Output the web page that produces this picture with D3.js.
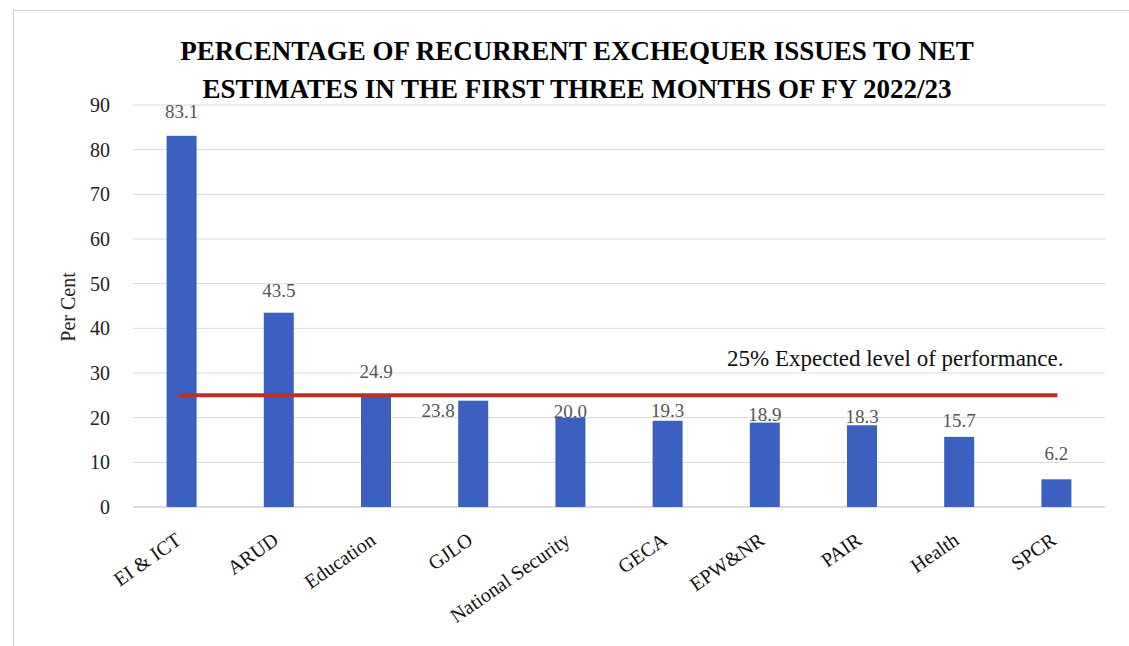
<!DOCTYPE html>
<html>
<head>
<meta charset="utf-8">
<script src="https://cdn.jsdelivr.net/npm/d3@7"></script>
<style>
  body { margin: 0; background: #fff; }
  text { font-family: "Liberation Serif", "DejaVu Serif", serif; }
</style>
</head>
<body>
<div id="chart"></div>
<script>
// Data.
const categories = ["EI & ICT", "ARUD", "Education", "GJLO", "National Security",
  "GECA", "EPW&NR", "PAIR", "Health", "SPCR"];
const values = [83.1, 43.5, 24.9, 23.8, 20.0, 19.3, 18.9, 18.3, 15.7, 6.2];
const yTicks = [0, 10, 20, 30, 40, 50, 60, 70, 80, 90];
const expectedLevel = 25;

// label nudges (layout only, the source chart places them by hand)
const labelDx = [0, 0, 0, -35, 0, 0, 0, 0, 0, 0];
const labelDy = [-18, -16, -18, 16, 0, -4, -2, -2, -10, -19];

const W = 1129, H = 646;
const margin = {top: 105, left: 133, bottom: 139, right: 24};

let svg = d3.select("#chart")
  .append("svg")
  .attr("width", W)
  .attr("height", H);

// partial outer frame (top and left edges show in the source)
svg.append("path")
  .attr("d", `M13.5,${H} V10.5 H${W}`)
  .attr("fill", "none")
  .attr("stroke", "#d0d0d0");

let x = d3.scaleBand()
  .domain(categories)
  .range([margin.left, W - margin.right]);

let y = d3.scaleLinear()
  .domain([0, 90])
  .range([H - margin.bottom, margin.top]);

const cx = (c) => x(c) + x.bandwidth() / 2;

// gridlines
svg.selectAll("line.grid")
  .data(yTicks)
  .enter()
  .append("line")
  .attr("class", "grid")
  .attr("x1", margin.left)
  .attr("x2", W - margin.right)
  .attr("y1", (d) => y(d))
  .attr("y2", (d) => y(d))
  .attr("stroke", (d) => d === 0 ? "#bdbdbd" : "#d9d9d9")
  .attr("stroke-width", 1);

// y axis labels
let yAxis = d3.axisLeft(y).tickValues(yTicks).tickSize(0).tickPadding(0);
let gy = svg.append("g")
  .attr("transform", `translate(${margin.left - 23},0)`)
  .call(yAxis);
gy.select(".domain").remove();
gy.selectAll("text")
  .attr("font-size", 20)
  .attr("fill", "#222")
  .style("font-family", '"Liberation Serif", serif');

svg.append("text")
  .attr("transform", `translate(75,${y(45) + 1}) rotate(-90)`)
  .attr("text-anchor", "middle")
  .attr("font-size", 20)
  .attr("fill", "#222")
  .text("Per Cent");

// bars
const barW = 30;
svg.selectAll("rect.bar")
  .data(values)
  .enter()
  .append("rect")
  .attr("class", "bar")
  .attr("x", (d, i) => cx(categories[i]) - barW / 2)
  .attr("y", (d) => y(d))
  .attr("width", barW)
  .attr("height", (d) => y(0) - y(d))
  .attr("fill", "#3c60c0");

// value labels
svg.selectAll("text.val")
  .data(values)
  .enter()
  .append("text")
  .attr("class", "val")
  .attr("x", (d, i) => cx(categories[i]) + labelDx[i])
  .attr("y", (d, i) => y(d) + labelDy[i])
  .attr("text-anchor", "middle")
  .attr("font-size", 19)
  .attr("fill", "#555")
  .text((d) => d.toFixed(1));

// expected level line
svg.append("line")
  .attr("x1", cx(categories[0]) - 3)
  .attr("x2", cx(categories[categories.length - 1]) + 1)
  .attr("y1", y(expectedLevel))
  .attr("y2", y(expectedLevel))
  .attr("stroke", "#b83227")
  .attr("stroke-width", 4);

svg.append("text")
  .attr("x", 727)
  .attr("y", 366)
  .attr("font-size", 23)
  .attr("fill", "#111")
  .text("25% Expected level of performance.");

// x labels, rotated
svg.selectAll("text.cat")
  .data(categories)
  .enter()
  .append("text")
  .attr("class", "cat")
  .attr("transform", (d) => `translate(${cx(d) + 1},${y(0) + 36}) rotate(-35)`)
  .attr("text-anchor", "end")
  .attr("font-size", 20)
  .attr("fill", "#111")
  .text((d) => d);

// title
const title = ["PERCENTAGE OF RECURRENT EXCHEQUER ISSUES TO NET",
  "ESTIMATES IN THE FIRST THREE MONTHS OF FY 2022/23"];
svg.selectAll("text.title")
  .data(title)
  .enter()
  .append("text")
  .attr("class", "title")
  .attr("x", 577)
  .attr("y", (d, i) => 60 + i * 38)
  .attr("text-anchor", "middle")
  .attr("font-size", 27)
  .attr("font-weight", "bold")
  .attr("fill", "#000")
  .text((d) => d);
</script>
</body>
</html>
